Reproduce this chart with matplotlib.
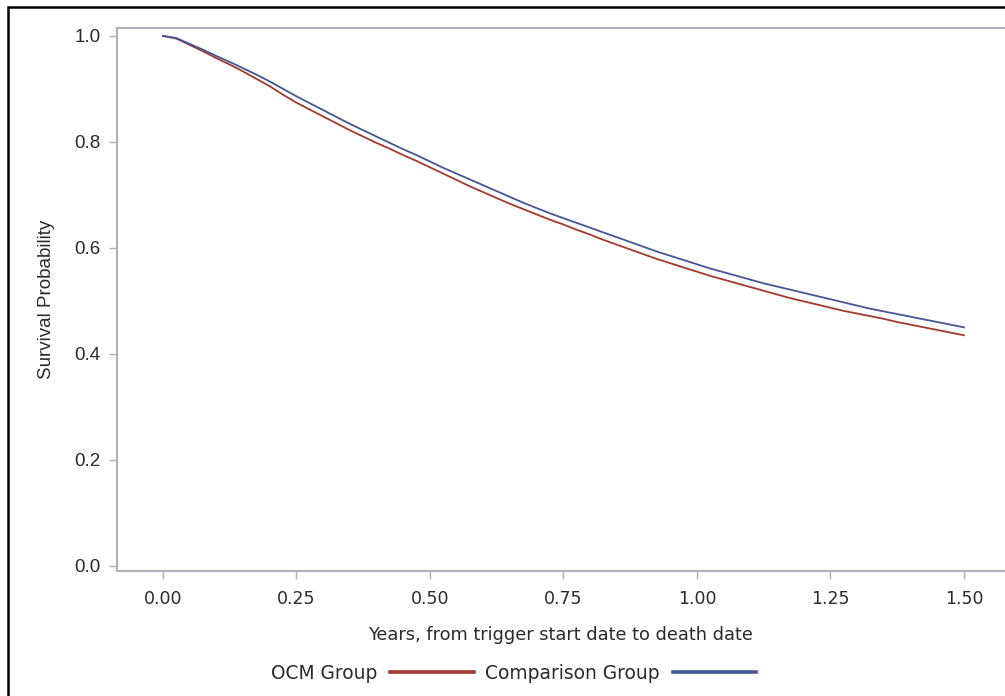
import matplotlib
matplotlib.use("Agg")
import matplotlib.pyplot as plt
from matplotlib.patches import Rectangle

# Kaplan-Meier survival estimates, years from trigger start date
years = [0.000, 0.025, 0.050, 0.075, 0.100, 0.125, 0.150, 0.175, 0.200, 0.225,
         0.250, 0.275, 0.300, 0.325, 0.350, 0.375, 0.400, 0.425, 0.450, 0.475,
         0.500, 0.525, 0.550, 0.575, 0.600, 0.625, 0.650, 0.675, 0.700, 0.725,
         0.750, 0.775, 0.800, 0.825, 0.850, 0.875, 0.900, 0.925, 0.950, 0.975,
         1.000, 1.025, 1.050, 1.075, 1.100, 1.125, 1.150, 1.175, 1.200, 1.225,
         1.250, 1.275, 1.300, 1.325, 1.350, 1.375, 1.400, 1.425, 1.450, 1.475,
         1.500]

ocm_survival = [1.000, 0.995, 0.983, 0.971, 0.958, 0.946, 0.933, 0.919, 0.905, 0.889,
                0.874, 0.861, 0.848, 0.835, 0.822, 0.810, 0.798, 0.787, 0.775, 0.764,
                0.752, 0.740, 0.728, 0.716, 0.705, 0.694, 0.683, 0.673, 0.663, 0.653,
                0.644, 0.634, 0.625, 0.615, 0.606, 0.597, 0.588, 0.579, 0.571, 0.563,
                0.555, 0.547, 0.540, 0.533, 0.526, 0.519, 0.512, 0.505, 0.499, 0.493,
                0.487, 0.481, 0.476, 0.471, 0.466, 0.460, 0.455, 0.450, 0.445, 0.440,
                0.435]

comparison_survival = [1.000, 0.996, 0.985, 0.974, 0.962, 0.951, 0.939, 0.927, 0.914, 0.900,
                       0.886, 0.873, 0.860, 0.847, 0.834, 0.822, 0.810, 0.798, 0.786, 0.775,
                       0.763, 0.751, 0.740, 0.729, 0.718, 0.707, 0.696, 0.685, 0.675, 0.665,
                       0.656, 0.647, 0.638, 0.629, 0.620, 0.611, 0.602, 0.593, 0.585, 0.577,
                       0.569, 0.561, 0.554, 0.547, 0.540, 0.533, 0.527, 0.521, 0.515, 0.509,
                       0.503, 0.497, 0.491, 0.485, 0.480, 0.475, 0.470, 0.465, 0.460, 0.455,
                       0.450]

x_ticks = [0.00, 0.25, 0.50, 0.75, 1.00, 1.25, 1.50]
x_tick_labels = ["0.00", "0.25", "0.50", "0.75", "1.00", "1.25", "1.50"]
y_ticks = [0.0, 0.2, 0.4, 0.6, 0.8, 1.0]
y_tick_labels = ["0.0", "0.2", "0.4", "0.6", "0.8", "1.0"]

RED = "#A23A2E"
BLUE = "#445694"
AXIS_GRAY = "#AEB2B6"
TEXT = "#2a2a2a"

fig = plt.figure(figsize=(10.05, 6.96), dpi=100)
ax = fig.add_axes([0.1164, 0.1803, 0.8836, 0.7795])

ax.plot(years, ocm_survival, color=RED, lw=1.3, label="OCM Group")
ax.plot(years, comparison_survival, color=BLUE, lw=1.3, label="Comparison Group")

ax.set_xlim(-0.0861, 1.5768)
ax.set_ylim(-0.009, 1.015)

ax.set_xticks(x_ticks)
ax.set_xticklabels(x_tick_labels, fontsize=12.5, family="DejaVu Sans", color=TEXT)
ax.set_yticks(y_ticks)
ax.set_yticklabels(y_tick_labels, fontsize=13.5, family="Liberation Sans", color=TEXT)
ax.tick_params(axis="both", direction="out", length=6, width=1.0,
               color=AXIS_GRAY, pad=6)
ax.tick_params(axis="x", pad=8)

for side in ("left", "bottom", "top"):
    ax.spines[side].set_color(AXIS_GRAY)
    ax.spines[side].set_linewidth(1.5)
ax.spines["right"].set_visible(False)

ax.set_xlabel("Years, from trigger start date to death date", fontsize=12.8,
              family="DejaVu Sans", color=TEXT, labelpad=13)
ax.set_ylabel("Survival Probability", fontsize=13.5, family="Liberation Sans",
              color=TEXT, labelpad=14)

leg = ax.legend(loc="center", bbox_to_anchor=(0.511, 0.033),
                bbox_transform=fig.transFigure, ncol=2, frameon=False,
                markerfirst=False, handlelength=4.5, handletextpad=0.7,
                columnspacing=0.6, prop={"family": "DejaVu Sans", "size": 13.4})
for line in leg.get_lines():
    line.set_linewidth(2.6)
for t in leg.get_texts():
    t.set_color(TEXT)

# black frame around the graph, open at right and bottom
fig.patches.append(Rectangle((7.5 / 1005, -0.2), 1.2, 1.2 - 6.5 / 696,
                             transform=fig.transFigure, fill=False,
                             edgecolor="black", lw=1.8, zorder=10))

fig.savefig("out.png", dpi=100)
